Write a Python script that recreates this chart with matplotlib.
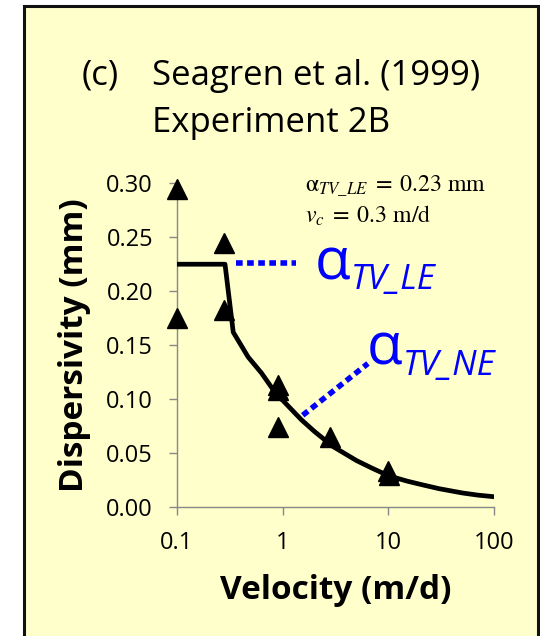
import matplotlib
matplotlib.use('Agg')
import matplotlib.pyplot as plt
from matplotlib.patches import Rectangle
from matplotlib.ticker import FixedLocator, FixedFormatter, MultipleLocator, FormatStrFormatter

# Observed dispersivity (Seagren et al. 1999, Experiment 2B)
velocity_obs = [0.1, 0.1, 0.28, 0.28, 0.9, 0.9, 0.9, 2.8, 10, 10.2]
dispersivity_obs = [0.295, 0.175, 0.245, 0.183, 0.113, 0.108, 0.074, 0.065, 0.033, 0.030]

# Model curve
velocity_fit = [0.1, 0.286, 0.342, 0.473, 0.634, 0.91, 1, 1.5, 2, 3, 5, 7, 10, 15, 20, 30, 50, 70, 100]
dispersivity_fit = [0.225, 0.225, 0.162, 0.139, 0.124, 0.102, 0.099, 0.081, 0.070, 0.056,
                    0.043, 0.036, 0.029, 0.024, 0.021, 0.017, 0.013, 0.011, 0.0095]

# Pointer lines to the two regime labels
le_pointer_x = [0.36, 1.33]
le_pointer_y = [0.226, 0.226]
ne_pointer_x = [1.55, 6.4]
ne_pointer_y = [0.085, 0.133]

x_ticks = [0.1, 1, 10, 100]
x_tick_labels = ['0.1', '1', '10', '100']

plt.rcParams['font.family'] = ['Open Sans', 'DejaVu Sans']

W, H = 540, 636
fig = plt.figure(figsize=(W / 100, H / 100), dpi=100)
fig.patch.set_facecolor('white')

# Yellow panel with dark frame
fig.patches.append(Rectangle((23.5 / W, -0.05), (537.5 - 23.5) / W, 1.05 - 6 / H,
                             transform=fig.transFigure, facecolor='#FFFFCC',
                             edgecolor='#111111', linewidth=2.2, zorder=-5))

ax = fig.add_axes([176.7 / W, 1 - 507 / H, (494.3 - 176.7) / W, (507 - 183.3) / H])
ax.set_facecolor('none')

ax.plot(velocity_fit, dispersivity_fit, color='black', linewidth=3.4, zorder=3)
ax.plot(velocity_obs, dispersivity_obs, linestyle='none', marker='^', markersize=14,
        color='black', clip_on=False, zorder=4)

ax.plot(le_pointer_x, le_pointer_y, color='#0000FF', linewidth=4,
        linestyle=(0, (1.2, 0.8)), zorder=2)
ax.plot(ne_pointer_x, ne_pointer_y, color='#0000FF', linewidth=4,
        linestyle=(0, (1.2, 0.8)), zorder=2)

ax.set_xscale('log')
ax.set_xlim(0.1, 100)
ax.set_ylim(0, 0.30)
ax.xaxis.set_major_locator(FixedLocator(x_ticks))
ax.xaxis.set_major_formatter(FixedFormatter(x_tick_labels))
ax.xaxis.set_minor_locator(FixedLocator([]))
ax.yaxis.set_major_locator(MultipleLocator(0.05))
ax.yaxis.set_major_formatter(FormatStrFormatter('%.2f'))

for side in ['top', 'right']:
    ax.spines[side].set_visible(False)
for side in ['left', 'bottom']:
    ax.spines[side].set_color('#888888')
    ax.spines[side].set_linewidth(1.0)
ax.tick_params(axis='both', direction='out', length=6, width=1.0, color='#888888',
               labelsize=17, labelcolor='black')
ax.tick_params(axis='y', pad=11)
ax.tick_params(axis='x', pad=11)

ax.set_xlabel('Velocity (m/d)', fontsize=24, fontweight='bold', labelpad=14)
ax.set_ylabel('Dispersivity (mm)', fontsize=24, fontweight='bold', labelpad=11)

# Title block
fig.text(81.7 / W, 1 - 76 / H, '(c)', fontsize=25, va='center', ha='left')
fig.text(151.5 / W, 1 - 76 / H, 'Seagren et al. (1999)', fontsize=25, va='center', ha='left')
fig.text(151.5 / W, 1 - 123 / H, 'Experiment 2B', fontsize=25, va='center', ha='left')

# Fitted parameters
fig.text(305 / W, 1 - 191.7 / H, r'$\mathrm{\alpha}_{TV\_LE}\;=\;0.23\ \mathrm{mm}$',
         fontsize=17.2, math_fontfamily='stix', va='baseline', ha='left')
fig.text(305 / W, 1 - 223 / H, r'$v_c\;=\;0.3\ \mathrm{m/d}$',
         fontsize=17.2, math_fontfamily='stix', va='baseline', ha='left')

# Regime labels
ax.text(2.02, 0.225, '\u03b1', fontsize=42, color='#0000FF', va='center', ha='left')
ax.text(4.4, 0.202, 'TV_LE', fontsize=25, color='#0000FF', style='italic',
        va='baseline', ha='left')
ax.text(6.24, 0.146, '\u03b1', fontsize=42, color='#0000FF', va='center', ha='left')
ax.text(13.6, 0.122, 'TV_NE', fontsize=25, color='#0000FF', style='italic',
        va='baseline', ha='left')

fig.savefig('out.png', dpi=100, facecolor=fig.get_facecolor())
plt.close(fig)
